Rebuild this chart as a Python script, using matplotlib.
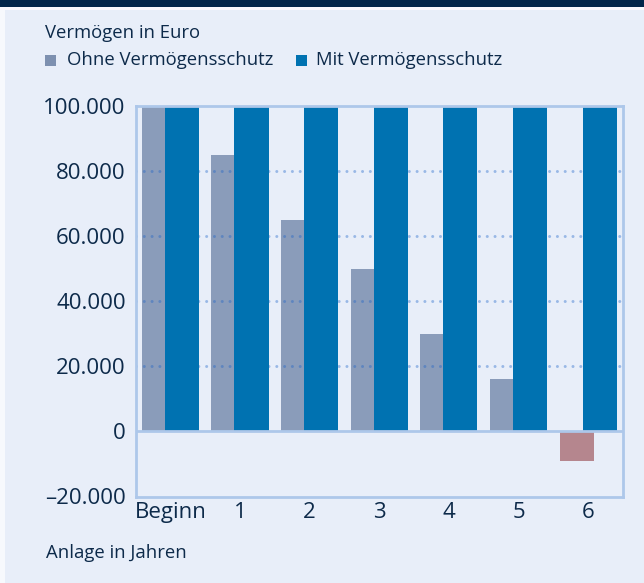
import matplotlib
matplotlib.use("Agg")
import matplotlib.pyplot as plt
from matplotlib.patches import Rectangle
import numpy as np

categories = ["Beginn", "1", "2", "3", "4", "5", "6"]
ohne = [100000, 85000, 65000, 50000, 30000, 16000, -9000]
mit = [100000, 100000, 100000, 100000, 100000, 100000, 100000]
yticks = [-20000, 0, 20000, 40000, 60000, 80000, 100000]
ytick_labels = ["\u201320.000", "0", "20.000", "40.000", "60.000", "80.000", "100.000"]

W, H = 644, 583
BG = "#e8eef9"
FRAME = "#adc7ea"
TXT = "#0d2a4a"
GRAY = "#8a9cba"
BLUE = "#0072b1"
RED = "#b5868e"

plt.rcParams['font.family'] = ['Open Sans', 'DejaVu Sans']

fig = plt.figure(figsize=(W / 100, H / 100), dpi=100)
fig.patch.set_facecolor(BG)

def px(x0, y0, w, h):
    return (x0 / W, 1 - (y0 + h) / H, w / W, h / H)

# dark band and white strips
for (x0, y0, w, h, c) in [(0, 0, W, 7.5, "#00264a"), (0, 7.5, W, 2.5, "#f7f9fd"), (0, 7.5, 5, H, "#f7f9fd")]:
    r = px(x0, y0, w, h)
    fig.add_artist(Rectangle((r[0], r[1]), r[2], r[3], transform=fig.transFigure,
                             facecolor=c, edgecolor="none", zorder=0))

ax = fig.add_axes([135.5 / W, 1 - 496.5 / H, (623 - 135.5) / W, (496.5 - 106.3) / H])
ax.set_facecolor(BG)

x = np.arange(len(categories))
off = 0.165
bw = 0.49
gray_colors = [GRAY if v >= 0 else RED for v in ohne]
ax.bar(x - off, ohne, width=bw, color=gray_colors, zorder=2, linewidth=0)
ax.bar(x + off, mit, width=bw, color=BLUE, zorder=4, linewidth=0)

for yv in [20000, 40000, 60000, 80000]:
    ax.axhline(yv, color="#1a62c8", alpha=0.38, linewidth=2.2,
               linestyle=(0, (0.001, 2.55)), dash_capstyle="round", zorder=3)
ax.axhline(0, color=FRAME, linewidth=2.0, zorder=5)

ax.set_xlim(-0.5, len(categories) - 0.5)
ax.set_ylim(-20000, 100000)
ax.set_yticks(yticks)
ax.set_yticklabels(ytick_labels)
ax.set_xticks(x)
ax.set_xticklabels(categories)
ax.tick_params(axis="both", length=0, labelsize=16, colors=TXT)
ax.tick_params(axis="y", pad=7)
ax.tick_params(axis="x", pad=4)
for s in ax.spines.values():
    s.set_color(FRAME)
    s.set_linewidth(2.0)
    s.set_zorder(6)

fig.text(45 / W, 1 - 33 / H, "Vermögen in Euro", fontsize=13.3, color=TXT, va="center", ha="left")
fig.text(46 / W, 1 - 553 / H, "Anlage in Jahren", fontsize=13.3, color=TXT, va="center", ha="left")

for (x0, lab, c, tx) in [(45, "Ohne Vermögensschutz", "#7d90b0", 67), (296, "Mit Vermögensschutz", BLUE, 316)]:
    r = px(x0, 54.5, 11, 11)
    fig.add_artist(Rectangle((r[0], r[1]), r[2], r[3], transform=fig.transFigure,
                             facecolor=c, edgecolor="none"))
    fig.text(tx / W, 1 - 60 / H, lab, fontsize=13.3, color=TXT, va="center", ha="left")

fig.savefig("out.png", dpi=100, facecolor=BG)
